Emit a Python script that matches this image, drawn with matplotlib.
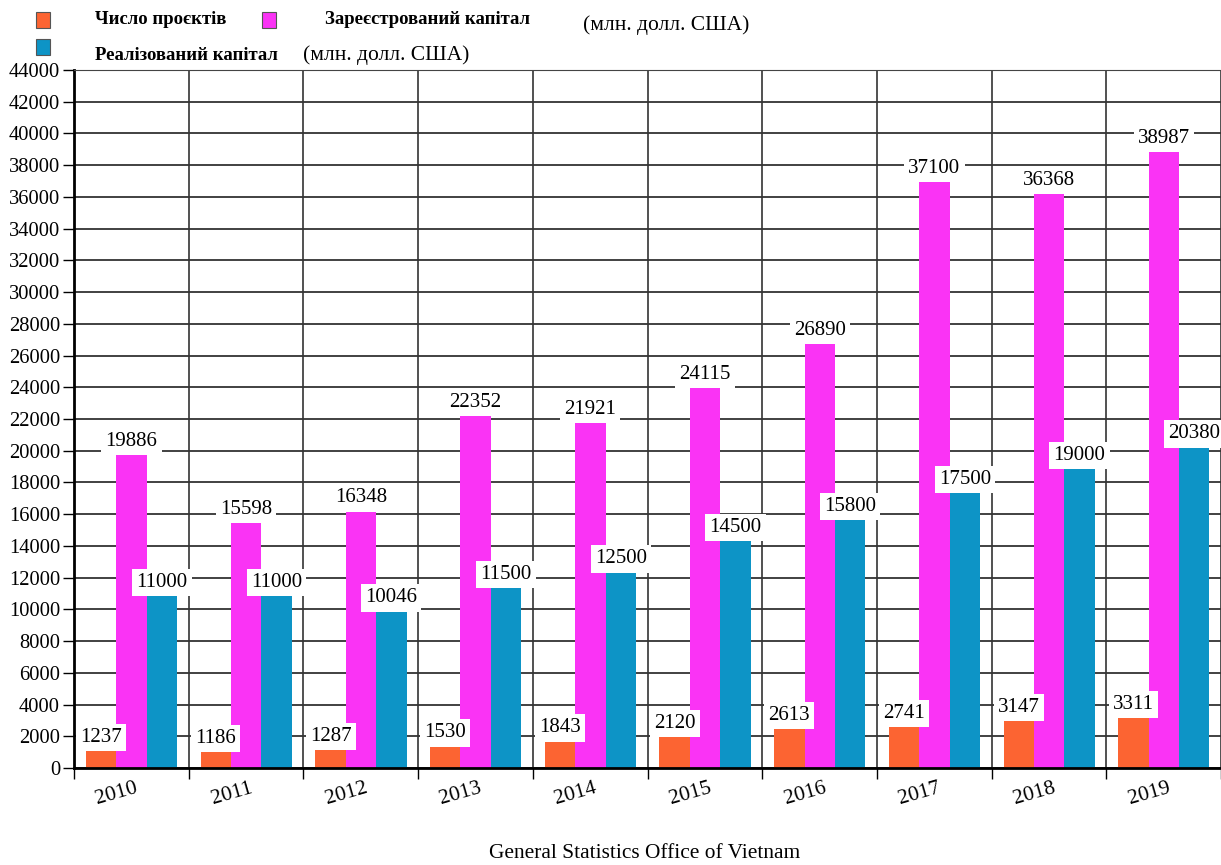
import numpy as np
import matplotlib.pyplot as plt
import matplotlib

matplotlib.rc('font', family=['Liberation Serif', 'DejaVu Serif'])

years = ["2010", "2011", "2012", "2013", "2014", "2015", "2016", "2017", "2018", "2019"]
projects = [1237, 1186, 1287, 1530, 1843, 2120, 2613, 2741, 3147, 3311]
registered = [19886, 15598, 16348, 22352, 21921, 24115, 26890, 37100, 36368, 38987]
realized = [11000, 11000, 10046, 11500, 12500, 14500, 15800, 17500, 19000, 20380]

series = [projects, registered, realized]
colors = ["#FC6432", "#FA33F5", "#0D94C6"]
names = ["Число проєктів", "Зареєстрований капітал", "Реалізований капітал"]

fig = plt.figure(figsize=(12.21, 8.65), dpi=100)
ax = fig.add_axes([74 / 1221, 97 / 865, 1147 / 1221, 698 / 865])

x = np.arange(len(years))
w = 0.265
off = 0.104
for k, (vals, c) in enumerate(zip(series, colors)):
    pos = x + off + k * w + w / 2
    ax.bar(pos, vals, width=w, color=c, zorder=2)
    for p, v in zip(pos, vals):
        ax.text(p, v + 80, str(v), ha='center', va='bottom',
                fontsize=15, zorder=4,
                bbox=dict(facecolor='white', edgecolor='none', pad=3))

ax.set_xlim(0, len(years))
ax.set_ylim(0, 44000)
ax.set_yticks(np.arange(0, 44001, 2000))
ax.tick_params(axis='y', labelsize=14.8, length=8, width=1, pad=2)
ax.set_xticks(x + 0.53)
ax.set_xticklabels(years, rotation=16, ha='right', rotation_mode='anchor', fontsize=15.5)
ax.tick_params(axis='x', length=0, pad=8)
ax.set_xticks(np.arange(0, len(years) + 1), minor=True)
ax.tick_params(axis='x', which='minor', length=8, width=1)

ax.grid(axis='y', color='#333333', linewidth=1.3, zorder=0)
ax.grid(axis='x', which='minor', color='#333333', linewidth=1.2, zorder=0)
ax.set_axisbelow(True)
ax.spines['left'].set_linewidth(2)
ax.spines['bottom'].set_linewidth(2)
ax.spines['top'].set_color('#444444')
ax.spines['right'].set_visible(False)

# legend drawn as figure text
sq = [(43, 20), (269, 20), (43, 47)]
tx = [(95, 20), (325, 20), (95, 56)]
for (sx, sy), (lx, ly), c, n in zip(sq, tx, colors, names):
    fig.patches.append(matplotlib.patches.Rectangle(
        ((sx - 7) / 1221, 1 - (sy + 8) / 865), 14 / 1221, 16 / 865,
        transform=fig.transFigure, facecolor=c, edgecolor='#555555', linewidth=0.8))
    fig.text(lx / 1221, 1 - ly / 865, n, fontsize=13.5, fontweight='bold', va='center')
fig.text(583 / 1221, 1 - 25 / 865, "(млн. долл. США)", fontsize=15.5, va='center')
fig.text(303 / 1221, 1 - 55 / 865, "(млн. долл. США)", fontsize=15.5, va='center')

fig.text(645 / 1221, 1 - 853 / 865, "General Statistics Office of Vietnam",
         fontsize=15.4, ha='center', va='center')

plt.savefig('out.png', dpi=100)
